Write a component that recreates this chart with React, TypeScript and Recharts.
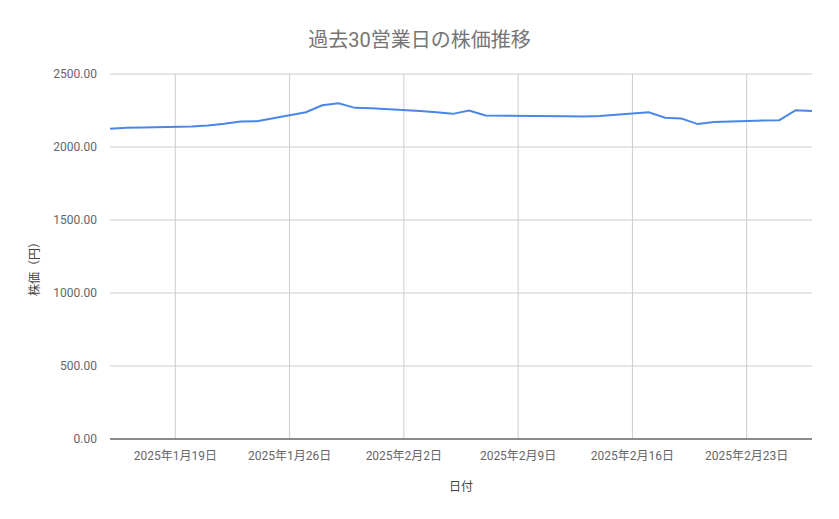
import { LineChart, Line, XAxis, YAxis, CartesianGrid } from 'recharts'

const dates = [
  '2025-01-15', '2025-01-16', '2025-01-17', '2025-01-20', '2025-01-21',
  '2025-01-22', '2025-01-23', '2025-01-24', '2025-01-27', '2025-01-28',
  '2025-01-29', '2025-01-30', '2025-01-31', '2025-02-03', '2025-02-04',
  '2025-02-05', '2025-02-06', '2025-02-07', '2025-02-10', '2025-02-12',
  '2025-02-13', '2025-02-14', '2025-02-17', '2025-02-18', '2025-02-19',
  '2025-02-20', '2025-02-21', '2025-02-25', '2025-02-26', '2025-02-27',
]

const prices = [
  2125, 2131, 2133, 2141, 2148, 2159, 2175, 2177, 2238, 2286,
  2300, 2268, 2266, 2247, 2238, 2227, 2250, 2216, 2213, 2211,
  2209, 2213, 2238, 2200, 2195, 2157, 2172, 2184, 2252, 2247,
]

const tickDates = ['2025-01-19', '2025-01-26', '2025-02-02', '2025-02-09', '2025-02-16', '2025-02-23']
const yTicks = [0, 500, 1000, 1500, 2000, 2500]

const toTime = (s: string) => {
  const [y, m, d] = s.split('-').map(Number)
  return Date.UTC(y, m - 1, d)
}

const data = dates.map((d, i) => ({ t: toTime(d), price: prices[i] }))
const xTicks = tickDates.map(toTime)

const font = "Roboto, 'Noto Sans CJK JP', sans-serif"

const formatDate = (t: number) => {
  const d = new Date(t)
  return `${d.getUTCFullYear()}年${d.getUTCMonth() + 1}月${d.getUTCDate()}日`
}

export default function App() {
  return (
    <div style={{ position: 'absolute', left: 0, top: 0, width: 839, height: 519, background: '#fff', fontFamily: font }}>
      <div
        style={{
          position: 'absolute',
          top: 24,
          left: 0,
          width: 839,
          textAlign: 'center',
          fontSize: 20,
          color: '#757575',
        }}
      >
        過去30営業日の株価推移
      </div>
      <LineChart width={839} height={519} data={data} margin={{ top: 74, right: 27, left: 30, bottom: 0 }}>
        <CartesianGrid stroke="#cccccc" strokeWidth={1} syncWithTicks />
        <XAxis
          dataKey="t"
          type="number"
          scale="time"
          domain={[toTime('2025-01-15'), toTime('2025-02-27')]}
          ticks={xTicks}
          tickFormatter={formatDate}
          tickLine={false}
          tickMargin={6}
          height={80}
          axisLine={{ stroke: '#333333' }}
          tick={{ fill: '#666666', fontSize: 12, fontFamily: font }}
          label={{
            content: () => (
              <text x={461} y={491} textAnchor="middle" fill="#444444" fontSize={12} fontFamily={font}>
                日付
              </text>
            ),
          }}
        />
        <YAxis
          type="number"
          domain={[0, 2500]}
          ticks={yTicks}
          tickFormatter={(v: number) => v.toFixed(2)}
          tickLine={false}
          axisLine={false}
          tickMargin={7}
          width={80}
          tick={{ fill: '#666666', fontSize: 12, fontFamily: font }}
          label={{
            content: () => (
              <text
                x={39}
                y={266}
                transform="rotate(-90 39 266)"
                textAnchor="middle"
                fill="#444444"
                fontSize={12}
                fontFamily={font}
              >
                株価（円）
              </text>
            ),
          }}
        />
        <Line
          type="linear"
          dataKey="price"
          stroke="#4a86e8"
          strokeWidth={2}
          dot={false}
          isAnimationActive={false}
        />
      </LineChart>
    </div>
  )
}
